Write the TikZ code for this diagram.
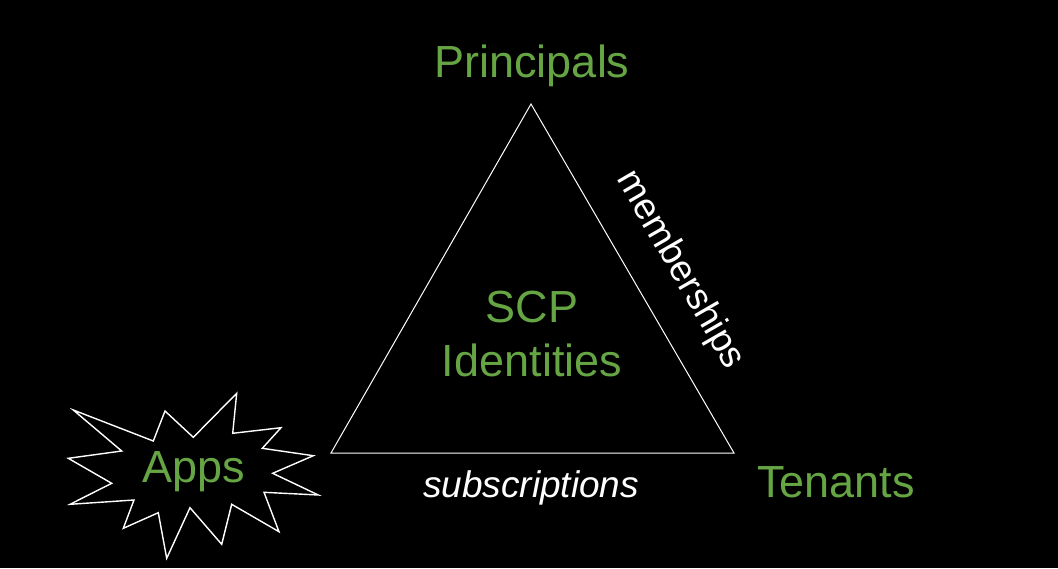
\documentclass[tikz,border=0pt]{standalone}
\usepackage{fontspec}
\setmainfont{Liberation Sans}
\definecolor{leafgreen}{HTML}{66A544}
\tikzset{
  lbl/.style={text=leafgreen, font=\fontsize{45}{54}\selectfont, inner sep=0pt},
  edgelbl/.style={text=white, font=\fontsize{37}{42}\selectfont, inner sep=0pt},
  edge/.style={draw=white, line width=1pt, line join=miter},
  burst/.style={draw=white, line width=1.4pt, line join=miter}
}
\begin{document}
\begin{tikzpicture}[x=1pt,y=-1pt]
\fill[black] (0,0) rectangle (1058,568);
\useasboundingbox (0,0) rectangle (1058,568);
% triangle vertices
\coordinate (top) at (531,104);
\coordinate (bl) at (331,453);
\coordinate (br) at (734,453);
\draw[edge] (top) -- (bl) -- (br) -- cycle;
% labels
\node[lbl, anchor=base] (principals) at (532,77) {Principals};
\node[lbl, align=center] (scp) at (532,334) {SCP\\Identities};
\node[lbl, anchor=base] (tenants) at (836,497) {Tenants};
\node[edgelbl, anchor=base] (subs) at (531,497) {\itshape subscriptions};
\node[edgelbl, rotate=-60] (memb) at (680,270) {memberships};
% starburst
\draw[burst] (73.3,410) -- (153.3,441) -- (165,411) -- (193.3,437.3) -- (236.7,393.3)
  -- (232.7,433.3) -- (281,427.7) -- (262.3,448.3) -- (313.3,455.7) -- (272.7,473.3)
  -- (318.3,495) -- (264,492.3) -- (279,531.7) -- (231.7,504.3) -- (221.7,544.3)
  -- (190,507.7) -- (166.7,558.3) -- (158.3,512.7) -- (123.3,528.3) -- (134,500)
  -- (70,504.3) -- (111.7,483.3) -- (68.3,458.3) -- (121.7,451) -- cycle;
\node[lbl, anchor=base] (apps) at (194,482) {Apps};
\end{tikzpicture}
\end{document}
